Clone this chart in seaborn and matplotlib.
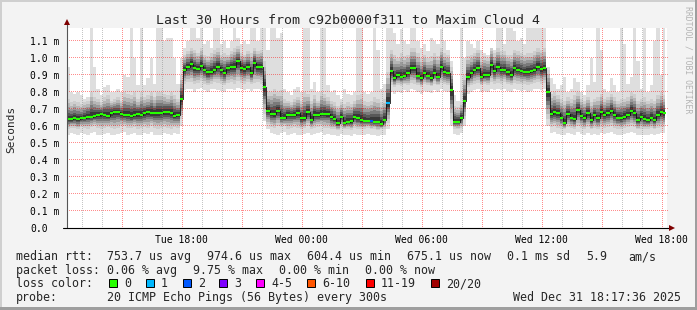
import numpy as np
import pandas as pd
import matplotlib
matplotlib.use("Agg")
import matplotlib.pyplot as plt
import matplotlib.transforms as mtransforms
from matplotlib.patches import Rectangle
from matplotlib.lines import Line2D
import seaborn as sns

# ---------------- data (values in milliseconds, 10-minute samples) ----------------
start_hour = 12 + 20 / 60          # Tue 12:20 as hours since Tue 00:00
step_hours = 10 / 60
view_start = 12 + 17 / 60          # Tue 12:17
view_hours = 30

median_ms = [
    0.64, 0.64, 0.645, 0.64, 0.645, 0.65, 0.655, 0.655, 0.66, 0.665,
    0.67, 0.665, 0.66, 0.675, 0.68, 0.68, 0.67, 0.665, 0.665, 0.66,
    0.665, 0.67, 0.665, 0.675, 0.68, 0.675, 0.675, 0.678, 0.678, 0.68, 0.684,
    0.675, 0.66, 0.665, 0.76,
    0.93, 0.95, 0.963, 0.94, 0.935, 0.955, 0.93, 0.915, 0.92, 0.93,
    0.95, 0.93, 0.91, 0.94, 0.945, 0.95, 0.98, 0.94, 0.935, 0.945,
    0.91, 0.97, 0.945, 0.945,
    0.83, 0.69,
    0.67, 0.67, 0.69, 0.65, 0.65, 0.665, 0.665, 0.665, 0.675, 0.648,
    0.648, 0.68, 0.636, 0.665, 0.665, 0.67, 0.672, 0.67, 0.655, 0.64,
    0.616, 0.655, 0.616, 0.625, 0.63, 0.655, 0.645, 0.636, 0.63, 0.63,
    0.632, 0.626, 0.626, 0.61, 0.636, 0.735,
    0.923, 0.88, 0.9, 0.89, 0.896, 0.91, 0.94, 0.94, 0.896, 0.88,
    0.91, 0.896, 0.88, 0.914, 0.89, 0.945, 0.916, 0.91,
    0.81, 0.626, 0.626, 0.645, 0.747, 0.89,
    0.91, 0.93, 0.94, 0.89, 0.9, 0.9, 0.958, 0.923, 0.95, 0.93,
    0.93, 0.915, 0.9, 0.94, 0.93, 0.925, 0.916, 0.92, 0.923, 0.93,
    0.95, 0.935, 0.94,
    0.80,
    0.67, 0.68, 0.675, 0.65, 0.62, 0.67, 0.65, 0.64, 0.695, 0.66,
    0.645, 0.675, 0.635, 0.665, 0.645, 0.68, 0.665, 0.675, 0.69, 0.665,
    0.65, 0.645, 0.655, 0.665, 0.69, 0.675, 0.635, 0.655, 0.64, 0.635,
    0.65, 0.635, 0.665, 0.68, 0.675,
]

min_ms = [
    0.55, 0.56, 0.555, 0.545, 0.56, 0.555, 0.55, 0.56, 0.565, 0.55,
    0.545, 0.555, 0.56, 0.55, 0.545, 0.555, 0.56, 0.565, 0.55, 0.555,
    0.56, 0.545, 0.55, 0.56, 0.555, 0.565, 0.55, 0.545, 0.55, 0.56,
    0.555, 0.55, 0.56, 0.555,
    0.6,
    0.81, 0.82, 0.815, 0.8, 0.82, 0.825, 0.81, 0.8, 0.815, 0.82,
    0.81, 0.805, 0.8, 0.815, 0.82, 0.81, 0.825, 0.815, 0.81, 0.82,
    0.805, 0.815, 0.82, 0.81,
    0.63, 0.58,
    0.56, 0.555, 0.55, 0.56, 0.565, 0.55, 0.555, 0.56, 0.55, 0.545,
    0.555, 0.56, 0.55, 0.555, 0.56, 0.565, 0.55, 0.555, 0.545, 0.55,
    0.54, 0.555, 0.545, 0.55, 0.54, 0.555, 0.55, 0.545, 0.55, 0.555,
    0.545, 0.55, 0.54, 0.545, 0.55,
    0.58,
    0.8, 0.79, 0.8, 0.795, 0.81, 0.8, 0.815, 0.81, 0.8, 0.79,
    0.805, 0.8, 0.795, 0.81, 0.8, 0.815, 0.805, 0.8,
    0.6, 0.555, 0.55, 0.56, 0.6, 0.79,
    0.8, 0.81, 0.815, 0.8, 0.805, 0.8, 0.82, 0.81, 0.815, 0.81,
    0.82, 0.805, 0.8, 0.815, 0.81, 0.805, 0.81, 0.8, 0.805, 0.815,
    0.82, 0.81, 0.815,
    0.6,
    0.56, 0.565, 0.555, 0.55, 0.545, 0.56, 0.555, 0.55, 0.565, 0.555,
    0.55, 0.56, 0.545, 0.555, 0.55, 0.56, 0.555, 0.56, 0.565, 0.555,
    0.55, 0.545, 0.555, 0.56, 0.565, 0.56, 0.545, 0.55, 0.545, 0.55,
    0.555, 0.545, 0.555, 0.56, 0.56,
]

low_quart_ms = [
    0.585, 0.59, 0.59, 0.58, 0.595, 0.59, 0.585, 0.595, 0.6, 0.59,
    0.585, 0.59, 0.595, 0.59, 0.58, 0.59, 0.6, 0.6, 0.59, 0.59,
    0.595, 0.585, 0.59, 0.595, 0.59, 0.6, 0.59, 0.585, 0.59, 0.595,
    0.59, 0.585, 0.595, 0.59,
    0.64,
    0.85, 0.86, 0.86, 0.845, 0.855, 0.865, 0.85, 0.84, 0.85, 0.86,
    0.855, 0.845, 0.84, 0.855, 0.86, 0.85, 0.865, 0.855, 0.85, 0.86,
    0.845, 0.855, 0.86, 0.85,
    0.67, 0.61,
    0.595, 0.59, 0.6, 0.595, 0.6, 0.585, 0.59, 0.595, 0.59, 0.58,
    0.59, 0.6, 0.585, 0.59, 0.595, 0.6, 0.59, 0.59, 0.58, 0.585,
    0.575, 0.59, 0.58, 0.585, 0.575, 0.59, 0.585, 0.58, 0.585, 0.59,
    0.58, 0.585, 0.575, 0.58, 0.585,
    0.62,
    0.84, 0.83, 0.84, 0.835, 0.845, 0.84, 0.855, 0.85, 0.84, 0.83,
    0.845, 0.84, 0.835, 0.85, 0.84, 0.855, 0.845, 0.84,
    0.64, 0.585, 0.58, 0.59, 0.64, 0.83,
    0.84, 0.85, 0.855, 0.84, 0.845, 0.84, 0.86, 0.85, 0.855, 0.85,
    0.86, 0.845, 0.84, 0.855, 0.85, 0.845, 0.85, 0.84, 0.845, 0.855,
    0.86, 0.85, 0.855,
    0.64,
    0.595, 0.6, 0.59, 0.585, 0.58, 0.595, 0.59, 0.585, 0.6, 0.59,
    0.585, 0.595, 0.58, 0.59, 0.585, 0.595, 0.59, 0.595, 0.6, 0.59,
    0.585, 0.58, 0.59, 0.595, 0.6, 0.595, 0.58, 0.585, 0.58, 0.585,
    0.59, 0.58, 0.59, 0.595, 0.595,
]

high_quart_ms = [
    0.76, 0.74, 0.75, 0.74, 0.73, 0.74, 0.75, 0.8, 0.77, 0.76,
    0.74, 0.77, 0.78, 0.75, 0.76, 0.77, 0.75, 0.8, 0.79, 0.78,
    0.8, 0.76, 0.8, 0.77, 0.78, 0.8, 0.77, 0.8, 0.8, 0.79,
    0.78, 0.8, 0.78, 0.76,
    0.9,
    1.02, 1.04, 1.06, 1.05, 1.03, 1.06, 1.02, 1.01, 1.03, 1.05,
    1.06, 1.02, 1.03, 1.02, 1.04, 1.06, 1.07, 1.03, 1.02, 1.04,
    1.03, 1.06, 1.04, 1.05,
    0.98, 0.8,
    0.8, 0.82, 0.8, 0.81, 0.76, 0.75, 0.74, 0.76, 0.77, 0.75,
    0.8, 0.79, 0.75, 0.78, 0.75, 0.8, 0.79, 0.77, 0.75, 0.74,
    0.72, 0.74, 0.73, 0.74, 0.73, 0.75, 0.78, 0.79, 0.75, 0.74,
    0.75, 0.77, 0.76, 0.74, 0.76,
    0.92,
    1.05, 1.02, 1.0, 1.03, 1.01, 1.02, 1.06, 1.06, 1.03, 1.0,
    1.02, 1.0, 1.01, 1.03, 1.01, 1.06, 1.03, 1.02,
    0.95, 0.72, 0.71, 0.74, 0.9, 1.01,
    1.02, 1.03, 1.05, 1.0, 1.01, 1.0, 1.06, 1.03, 1.06, 1.04,
    1.04, 1.02, 1.02, 1.05, 1.04, 1.03, 1.02, 1.03, 1.03, 1.04,
    1.06, 1.05, 1.06,
    0.93,
    0.79, 0.8, 0.78, 0.76, 0.75, 0.77, 0.76, 0.78, 0.8, 0.76,
    0.75, 0.77, 0.74, 0.76, 0.77, 0.79, 0.76, 0.77, 0.79, 0.77,
    0.75, 0.76, 0.76, 0.77, 0.8, 0.79, 0.75, 0.76, 0.77, 0.75,
    0.76, 0.75, 0.78, 0.8, 0.78,
]

max_ms = [
    0.95, 0.80, 0.79, 0.80, 0.78, 0.76, 0.77, 1.2, 0.95, 0.82,
    0.78, 0.83, 0.84, 0.80, 0.80, 0.82, 0.80, 0.90, 0.89, 1.2,
    1.0, 0.84, 1.2, 0.84, 0.88, 1.0, 0.85, 1.2, 1.2, 1.1,
    1.12, 1.12, 1.0, 0.85, 1.0,
    1.06, 1.1, 1.2, 1.2, 1.12, 1.2, 1.08, 1.1, 1.06, 1.2,
    1.2, 1.08, 1.1, 1.06, 1.1, 1.2, 1.12, 1.08, 1.1, 1.08,
    1.2, 1.2, 1.1, 1.2, 1.2,
    1.05, 1.2, 1.2, 1.12, 1.15, 0.82, 0.80, 0.78, 0.82, 0.83,
    0.80, 1.2, 1.2, 0.82, 0.86, 0.80, 1.2, 1.2, 0.84, 0.80,
    0.81, 0.78, 0.76, 0.82, 0.79, 0.78, 0.80, 1.2, 1.2, 0.80,
    0.79, 0.80, 1.2, 1.05, 0.82, 0.85, 1.2, 1.2, 1.15, 1.08,
    1.17, 1.1, 1.08, 1.2, 1.2, 1.1, 1.06, 1.08, 1.04, 1.12,
    1.1, 1.08, 1.17, 1.1, 1.05, 0.98, 0.78, 0.75, 1.2, 1.0,
    1.1,
    1.08, 1.06, 1.1, 1.05, 1.03, 1.02, 1.06, 1.05, 1.2, 1.2,
    1.08, 1.2, 1.2, 1.16, 1.1, 1.12, 1.08, 1.2, 1.2, 1.2,
    1.2, 1.2, 1.2, 0.95, 0.88, 0.85, 0.82, 0.84, 0.89,
    0.80, 0.82, 0.88, 0.86, 0.80, 0.78, 0.84, 1.0, 0.86, 1.2,
    1.05, 0.82, 0.80, 0.88, 0.84, 0.80, 1.2, 1.08, 0.85, 0.89,
    1.2, 0.98, 0.82, 1.2, 0.80, 0.84, 1.1, 1.2, 0.9, 1.2,
]

loss_events = {91: 2, 96: 1}      # sample index -> lost pings (out of 20)

loss_labels = ["0", "1", "2", "3", "4-5", "6-10", "11-19", "20/20"]
loss_colors = ["#26ff00", "#00b8ff", "#0059ff", "#7e00ff",
               "#ff00ff", "#ff5500", "#ff0000", "#a10000"]

y_ticks = [0.0, 0.1, 0.2, 0.3, 0.4, 0.5, 0.6, 0.7, 0.8, 0.9, 1.0, 1.1]
grid_hours = list(range(13, 43))
x_tick_hours = [18, 24, 30, 36, 42]
x_tick_labels = ["Tue 18:00", "Wed 00:00", "Wed 06:00", "Wed 12:00", "Wed 18:00"]

title = "Last 30 Hours from c92b0000f311 to Maxim Cloud 4"
stats_rtt = [("median rtt:  753.7 us avg", 16), ("974.6 us max", 207),
             ("604.4 us min", 307), ("675.1 us now", 407), ("0.1 ms sd", 507),
             ("5.9", 586), ("am/s", 628)]
stats_loss = [("packet loss: 0.06 % avg", 16), ("9.75 % max", 193),
              ("0.00 % min", 279), ("0.00 % now", 365)]
probe_text = "20 ICMP Echo Pings (56 Bytes) every 300s"
stamp_text = "Wed Dec 31 18:17:36 2025"

n = len(median_ms)
assert all(len(a) == n for a in (min_ms, low_quart_ms, high_quart_ms, max_ms))

# ---------------- figure ----------------
sns.set_theme(style="white")
plt.rcParams["font.family"] = ["DejaVu Sans Mono"]

W, H = 697, 310
fig = plt.figure(figsize=(W / 100, H / 100), dpi=100, facecolor="#f3f3f3")


def fx(px):
    return px / W


def fy(py):
    return 1 - py / H


rect = [fx(67), fy(228), 600 / W, 200 / H]
ylim = (0, 200 / 170)

# base axes: smoke
ax = fig.add_axes(rect, zorder=0)
ax.set_facecolor("white")
ax.set_xlim(view_start, view_start + view_hours)
ax.set_ylim(*ylim)
for s in ax.spines.values():
    s.set_visible(False)

t = start_hour + np.arange(n) * step_hours
med = np.array(median_ms)
lo = np.array(min_ms)
hi = np.array(max_ms)
qlo = np.array(low_quart_ms)
qhi = np.array(high_quart_ms)

ax.fill_between(t, lo, hi, step="mid", color="#dedede", lw=0, zorder=1)
fracs = [0.0, 0.2, 0.38, 0.54, 0.68, 0.82]
shades = ["#cecece", "#b6b6b6", "#9a9a9a", "#7a7a7a", "#585858", "#383838"]
for f, c in zip(fracs, shades):
    ax.fill_between(t, qlo + (med - qlo) * f, qhi - (qhi - med) * f,
                    step="mid", color=c, lw=0, zorder=2)

# x ticks / labels on base axes
ax.set_xticks(x_tick_hours)
ax.set_xticklabels(x_tick_labels)
red_grid = (1.0, 0.0, 0.0, 0.45)
grey_grid = (0.5, 0.5, 0.5, 0.45)
ax.tick_params(axis="x", which="major", length=2, width=0.72,
               color=red_grid, pad=3, labelsize=7, labelcolor="black")
ax.set_yticks([])

# dotted grid (1 px on / 1 px off) from the axes scale, above the smoke
bx0, by0 = ax.transData.transform((view_start, 0))
bx1, by1 = ax.transData.transform((view_start + view_hours, ylim[1]))
for h in grid_hours:
    px = ax.transData.transform((h, 0))[0]
    ys = np.arange(np.floor(by0) + 1.5, by1, 2)
    xs = np.full(len(ys), np.floor(px) + 0.5)
    fig.add_artist(Line2D(xs, ys, ls="none", marker=",", transform=None,
                          color=red_grid if h % 3 == 0 else grey_grid,
                          zorder=0.5))
for v in y_ticks[1:]:
    py = ax.transData.transform((view_start, v))[1]
    xs = np.arange(np.floor(bx0) + 1.5, bx1, 2)
    ys = np.full(len(xs), np.floor(py) + 0.5)
    fig.add_artist(Line2D(xs, ys, ls="none", marker=",", transform=None,
                          color=red_grid, zorder=0.5))

# overlay axes: median line, loss dots, axis lines
ax2 = fig.add_axes(rect, zorder=1)
ax2.patch.set_visible(False)
ax2.set_xlim(view_start, view_start + view_hours)
ax2.set_ylim(*ylim)
for s in ax2.spines.values():
    s.set_visible(False)
ax2.set_xticks([])
ax2.set_yticks([])

df = pd.DataFrame({"t": t, "median": med})
sns.lineplot(data=df, x="t", y="median", ax=ax2, color="#111111", lw=0.6,
             drawstyle="steps-mid", errorbar=None, zorder=5)
dot_colors = [loss_colors[min(loss_events.get(i, 0), 3)] for i in range(n)]
ax2.scatter(t, med, marker="_", s=6, linewidths=1.5, c=dot_colors, zorder=6)
ax2.set_xlabel("")
ax2.set_ylabel("")

ax2.plot([0, 0], [0, 1.03], transform=ax2.transAxes, color="#555555",
         lw=0.8, clip_on=False, zorder=7)
ax2.plot([-4 / 600, 1.004], [0, 0], transform=ax2.transAxes, color="black",
         lw=0.8, clip_on=False, zorder=7)
ax2.plot([0], [1.028], transform=ax2.transAxes, marker="^", ms=4.2,
         color="#7f0000", clip_on=False, zorder=8, mew=0)
ax2.plot([1.0075], [0], transform=ax2.transAxes, marker=">", ms=4.2,
         color="#7f0000", clip_on=False, zorder=8, mew=0)

# y tick labels (left aligned at x=30px)
trans = mtransforms.offset_copy(ax.get_yaxis_transform(), fig=fig,
                                x=0, y=-3.6, units="dots")
for v in y_ticks:
    lab = "0.0" if v == 0 else f"{v:.1f} m"
    ax.text((30 - 67) / 600, v, lab, transform=trans, ha="left",
            va="baseline", fontsize=7, color="black")

# texts
LF = 8.4
fig.text(fx(348), fy(24), title, ha="center", va="baseline", fontsize=9.5)
fig.text(fx(11), fy(129), "Seconds", ha="center", va="center",
         rotation=90, fontsize=8)
fig.text(fx(688), fy(60), "RRDTOOL / TOBI OETIKER", ha="center",
         va="center", rotation=270, fontsize=5.9, color="#b4b4b4")

for txt, x in stats_rtt:
    fig.text(fx(x), fy(260), txt, ha="left", va="baseline", fontsize=LF)
for txt, x in stats_loss:
    fig.text(fx(x), fy(273.7), txt, ha="left", va="baseline", fontsize=LF)
fig.text(fx(16), fy(287.3), "loss color:", ha="left", va="baseline", fontsize=LF)
box_x = [109, 146, 183, 219, 256, 307, 366, 431]
for bx, lab, col in zip(box_x, loss_labels, loss_colors):
    fig.patches.append(Rectangle((fx(bx), fy(287)), 8 / W, 8 / H,
                                 transform=fig.transFigure, facecolor=col,
                                 edgecolor="black", lw=0.7, zorder=3))
    fig.text(fx(bx + 15), fy(287.3), lab, ha="left", va="baseline", fontsize=LF)
fig.text(fx(16), fy(301), "probe:", ha="left", va="baseline", fontsize=LF)
fig.text(fx(107), fy(301), probe_text, ha="left", va="baseline", fontsize=LF)
fig.text(fx(513), fy(301), stamp_text, ha="left", va="baseline", fontsize=LF)

# 3D frame
for xy, w, h, col in [((0, 1 - 2 / H), 1, 2 / H, "#cfcfcf"),
                      ((0, 0), 2 / W, 1, "#cfcfcf"),
                      ((0, 0), 1, 3 / H, "#9e9e9e"),
                      ((1 - 2 / W, 0), 2 / W, 1, "#9e9e9e")]:
    fig.patches.append(Rectangle(xy, w, h, transform=fig.transFigure,
                                 facecolor=col, lw=0, zorder=3))

fig.savefig("out.png", dpi=100, facecolor=fig.get_facecolor())
